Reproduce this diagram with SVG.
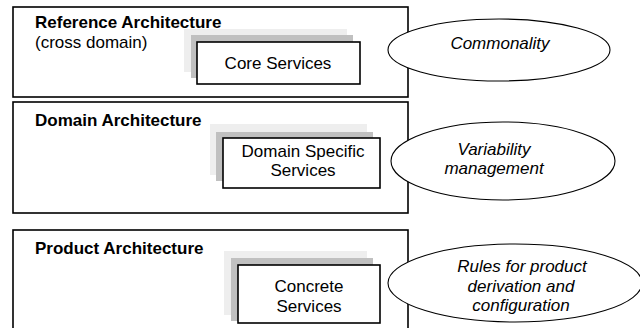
<svg xmlns="http://www.w3.org/2000/svg" width="640" height="328" viewBox="0 0 640 328">
<style>
.frame{fill:#fff;stroke:#000;stroke-width:1.6}
.box{fill:#fff;stroke:#000;stroke-width:1.6}
.sh1{fill:#eeeeee}
.sh2{fill:#c0c0c0}
.ell{fill:#fff;stroke:#000;stroke-width:1.1}
text{font-family:"Liberation Sans",Arial,sans-serif;fill:#000;font-size:17px}
.t{font-weight:bold}
.c{text-anchor:middle}
.i{font-style:italic;text-anchor:middle}
</style>
<rect width="640" height="328" fill="#fff"/>
<g id="reference">
<rect class="frame" x="13" y="7" width="395" height="90"/>
<text class="t" x="35" y="28">Reference Architecture</text>
<text x="35" y="48">(cross domain)</text>
</g>
<g id="core">
<rect class="sh1" x="184" y="29" width="163" height="43"/>
<rect class="sh2" x="191" y="35" width="162" height="43"/>
<rect class="box" x="197" y="42" width="163" height="42"/>
<text class="c" x="278" y="69">Core Services</text>
</g>
<g id="domain">
<rect class="frame" x="13" y="102" width="395" height="111"/>
<text class="t" x="35" y="126">Domain Architecture</text>
</g>
<g id="dss">
<rect class="sh1" x="210" y="124" width="157" height="51"/>
<rect class="sh2" x="216" y="132" width="157" height="49"/>
<rect class="box" x="223" y="138" width="157" height="50"/>
<text class="c" x="303" y="157">Domain Specific</text>
<text class="c" x="303" y="176">Services</text>
</g>
<g id="product">
<rect class="frame" x="13" y="230" width="395" height="110"/>
<text class="t" x="35" y="254">Product Architecture</text>
</g>
<g id="concrete">
<rect class="sh1" x="224" y="251" width="143" height="64"/>
<rect class="sh2" x="231" y="258" width="142" height="63"/>
<rect class="box" x="238" y="265" width="142" height="58"/>
<text class="c" x="309" y="292">Concrete</text>
<text class="c" x="309" y="312">Services</text>
</g>
<g id="commonality">
<ellipse class="ell" cx="499" cy="50" rx="111" ry="31"/>
<text class="i" x="500" y="49">Commonality</text>
</g>
<g id="variability">
<ellipse class="ell" cx="503" cy="161" rx="112" ry="39"/>
<text class="i" x="494" y="155">Variability</text>
<text class="i" x="494" y="174">management</text>
</g>
<g id="rules">
<ellipse class="ell" cx="515" cy="283" rx="127" ry="39"/>
<text class="i" x="522" y="272">Rules for product</text>
<text class="i" x="521" y="292">derivation and</text>
<text class="i" x="521" y="311">configuration</text>
</g>
</svg>
